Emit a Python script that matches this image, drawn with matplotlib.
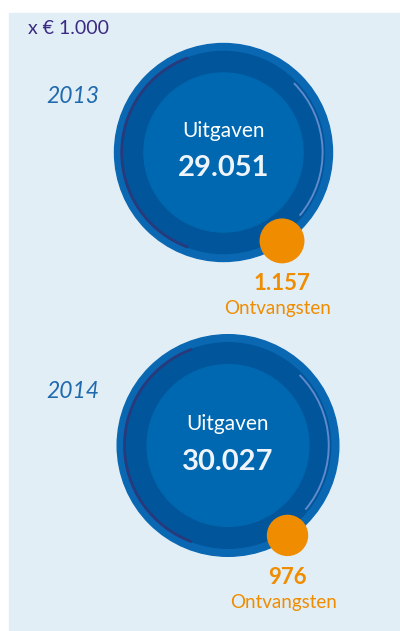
import numpy as np
import matplotlib
matplotlib.use('Agg')
import matplotlib.pyplot as plt
from matplotlib.patches import Circle, Arc, Rectangle

plt.rcParams['font.family'] = ['Lato', 'DejaVu Sans']

# data (x EUR 1.000)
years = ['2013', '2014']
uitgaven = [29051, 30027]
ontvangsten = [1157, 976]
uitgaven_labels = ['29.051', '30.027']
ontvangsten_labels = ['1.157', '976']

# colours
bg = '#e1eef6'
ring_outer = '#0a67b2'
ring_dark = '#00559b'
core = '#0068b0'
orange = '#f08c00'
year_col = '#1f6aae'
unit_col = '#3a2a82'

# area-proportional radius, pixels per sqrt(EUR 1.000)
k = 0.6395
centers = [(223.5, 152.5), (228, 445.5)]
year_y = [103, 398]

fig = plt.figure(figsize=(4, 6.31), dpi=100)
ax = fig.add_axes([0, 0, 1, 1])
ax.set_xlim(0, 400)
ax.set_ylim(631, 0)
ax.set_aspect('equal')
ax.axis('off')

ax.add_patch(Rectangle((9, 13), 400, 640, color=bg, zorder=0))

ax.text(28, 34, 'x € 1.000', fontsize=14, color=unit_col, ha='left', va='baseline')

for i, (cx, cy) in enumerate(centers):
    r = k * np.sqrt(uitgaven[i])
    ax.add_patch(Circle((cx, cy), r, color=ring_outer, zorder=1))
    ax.add_patch(Circle((cx, cy), r * 0.927, color=ring_dark, zorder=2))
    ax.add_patch(Arc((cx - 1, cy), 2 * r * 0.925, 2 * r * 0.925, theta1=110, theta2=250,
                     color='#283a7c', lw=2, zorder=3))
    ax.add_patch(Arc((cx + 1, cy), 2 * r * 0.90, 2 * r * 0.90, theta1=-45, theta2=40,
                     color='#5f8acb', lw=1.4, zorder=3))
    ax.add_patch(Circle((cx, cy), r * 0.73, color=core, zorder=4))

    ax.text(cx, cy - 15.5, 'Uitgaven', fontsize=15, color='white',
            ha='center', va='baseline', zorder=5)
    ax.text(cx, cy + 24, uitgaven_labels[i], fontsize=21, fontweight='bold', color='#eef4fa',
            ha='center', va='baseline', zorder=5)

    # orange circle on the ring, lower right
    ro = k * np.sqrt(ontvangsten[i])
    ang = np.deg2rad(56.5)
    d = r - 3
    ox, oy = cx + d * np.cos(ang), cy + d * np.sin(ang)
    ax.add_patch(Circle((ox, oy), ro, color=orange, zorder=6))
    ax.text(ox, oy + 49, ontvangsten_labels[i], fontsize=16, fontweight='bold', color=orange,
            ha='center', va='baseline')
    ax.text(ox - 4, oy + 73, 'Ontvangsten', fontsize=13.5, color=orange,
            ha='center', va='baseline')

    ax.text(73, year_y[i], years[i], fontsize=16.5, style='italic',
            color=year_col, ha='center', va='baseline')

fig.savefig('out.png', dpi=100)
